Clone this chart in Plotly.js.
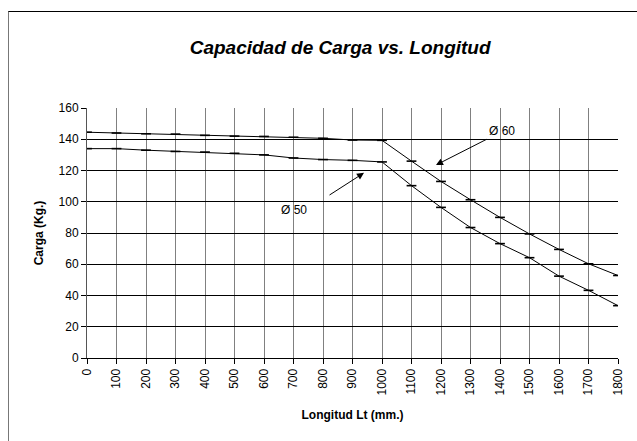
<!DOCTYPE html>
<html>
<head>
<meta charset="utf-8">
<script src="https://cdn.plot.ly/plotly-3.0.1.min.js"></script>
<style>
html,body{margin:0;padding:0;background:#fff;}
#frame{position:absolute;left:8px;top:11px;width:640px;height:440px;border-top:1px solid #000;border-left:1px solid #777;}
#chart{position:absolute;left:0;top:0;width:637px;height:441px;}
</style>
</head>
<body>
<div id="frame"></div>
<div id="chart"></div>
<script>
const longitud = [0,100,200,300,400,500,600,700,800,900,1000,1100,1200,1300,1400,1500,1600,1700,1800];
const carga60 = [144.5,144,143.5,143.3,142.5,142,141.8,141.3,140.6,139.5,139.3,126,113,101.3,90,79.4,69.5,60.3,52.8];
const carga50 = [134,134,133,132.2,131.8,131,130,128,127,126.5,125.5,110.3,96.4,83.5,73.2,64.2,52.4,43.3,33.5];
const xTicks = longitud.map(String);
const yTicks = [0,20,40,60,80,100,120,140,160];

const F = 'Arial, "Liberation Sans", sans-serif';
const markerStyle = {symbol:'line-ew', size:7, line:{color:'#000', width:1.6}, color:'#000'};

const traces = [
  {x:longitud, y:carga60, mode:'lines+markers', name:'Ø 60', line:{color:'#000', width:1}, marker:markerStyle},
  {x:longitud, y:carga50, mode:'lines+markers', name:'Ø 50', line:{color:'#000', width:1}, marker:markerStyle}
];

const layout = {
  width:637, height:441,
  margin:{l:87, r:19, t:108, b:83},
  paper_bgcolor:'rgba(0,0,0,0)', plot_bgcolor:'#fff',
  showlegend:false,
  font:{family:F, size:12, color:'#000'},
  title:{text:'<b><i>Capacidad de Carga vs. Longitud</i></b>', font:{family:F, size:19, color:'#000'}, x:0.534, xanchor:'center', y:0.893, yanchor:'middle'},
  xaxis:{range:[0,1800], tickvals:longitud, ticktext:xTicks, tickangle:-90, ticks:'outside', ticklen:5, tickcolor:'#000',
    showgrid:true, gridcolor:'#808080', gridwidth:1, showline:true, linecolor:'#000', linewidth:1, zeroline:false,
    tickfont:{family:F, size:12},
    title:{text:'<b>Longitud Lt (mm.)</b>', font:{family:F, size:12}, standoff:16}},
  yaxis:{range:[0,160], tickvals:yTicks, ticks:'outside', ticklen:5, tickcolor:'#000',
    showgrid:true, gridcolor:'#000', gridwidth:1, showline:true, linecolor:'#555', linewidth:1, zeroline:false,
    tickfont:{family:F, size:12},
    title:{text:'<b>Carga (Kg.)</b>', font:{family:F, size:12}, standoff:12}},
  annotations:[
    {x:1407, y:145.5, xref:'x', yref:'y', text:'Ø 60', showarrow:false, font:{family:F, size:12}},
    {x:1183, y:123.5, xref:'x', yref:'y', ax:1359, ay:140.4, axref:'x', ayref:'y', text:'', showarrow:true, arrowhead:2, arrowsize:1.4, arrowwidth:1, arrowcolor:'#000'},
    {x:702, y:94.7, xref:'x', yref:'y', text:'Ø 50', showarrow:false, font:{family:F, size:12}},
    {x:939, y:118.5, xref:'x', yref:'y', ax:817, ay:103.7, axref:'x', ayref:'y', text:'', showarrow:true, arrowhead:2, arrowsize:1.4, arrowwidth:1, arrowcolor:'#000'}
  ]
};

Plotly.newPlot('chart', traces, layout, {displayModeBar:false, staticPlot:true});
</script>
</body>
</html>
